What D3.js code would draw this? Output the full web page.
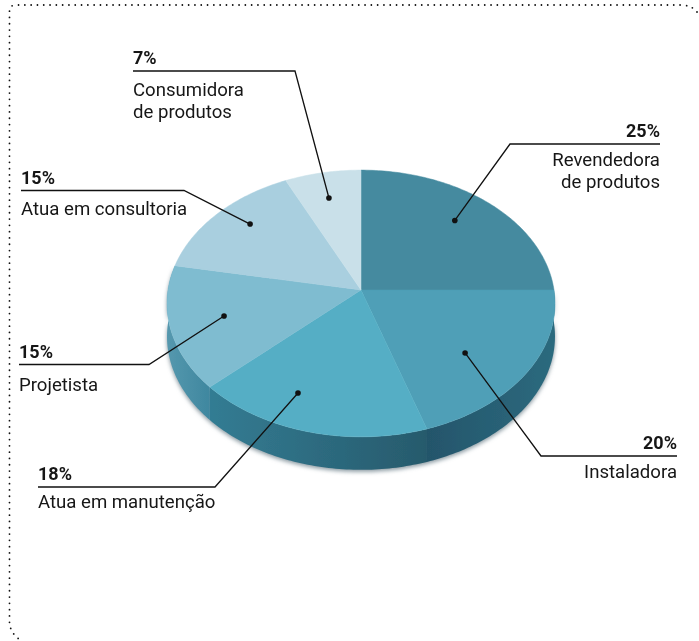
<!DOCTYPE html>
<html lang="pt">
<head>
<meta charset="UTF-8">
<title>Perfil</title>
<script src="https://cdn.jsdelivr.net/npm/d3@7"></script>
<style>
html,body{margin:0;background:#fff}
svg{display:block}
text{font-family:Roboto,sans-serif;fill:#161616}
</style>
</head>
<body>
<svg id="chart" width="699" height="641"></svg>
<script>
var labels=[["Revendedora","de produtos"],["Instaladora"],["Atua em manutenção"],["Projetista"],["Atua em consultoria"],["Consumidora","de produtos"]];
var values=[25,20,18,15,15,7];
var topColors=["#458a9f","#4f9fb7","#55aec5","#7fbcd0","#a9cfdf","#c9e0e9"];
var sideColors=[["#2d6478","#2d6478"],["#24556b","#2c6a7e"],["#337c93","#275a6c"],["#5598ae","#3f879f"],["#5f9db4","#5f9db4"],["#5f9db4","#5f9db4"]];

// callouts: x of text, line y, elbow x, anchor side, gap to the name, dot turn from slice middle (deg), dot radius
var callouts=[
    {x:660,y:144,end:510,to:"end",gap:22,turn:-2.3,r:0.757},
    {x:677,y:456,end:541,to:"end",gap:22,turn:5.5,r:0.687},
    {x:38,y:487,end:215,to:"start",gap:21,turn:8.3,r:0.784},
    {x:19,y:364.5,end:149,to:"start",gap:26.5,turn:0.7,r:0.722},
    {x:21,y:190.5,end:184,to:"start",gap:24.5,turn:3.2,r:0.802},
    {x:133,y:71,end:295,to:"start",gap:25,turn:-0.8,r:0.771}
];

var cx=361,cy=290,R=193,H=132,k=0.101,depth=33;

// the disc is drawn in perspective, near edge bigger than far edge
function project(a,r){
    var u=r*Math.sin(a),v=r*Math.cos(a),d=1+k*v;
    return [cx+R*u/d,cy-H*v/d];
}

var svg=d3.select("#chart");
var defs=svg.append("defs");
var soft=defs.append("filter").attr("id","soft").attr("x","-5%").attr("y","-5%").attr("width","110%").attr("height","110%");
soft.append("feGaussianBlur").attr("stdDeviation",0.5);
var shadow=defs.append("filter").attr("id","shadow").attr("x","-5%").attr("y","-5%").attr("width","110%").attr("height","115%");
shadow.append("feGaussianBlur").attr("stdDeviation",2);

// dotted frame, open at the bottom and right
svg.append("path")
    .attr("d","M697,12 Q692,5 680,5 L16,5 Q9.5,5 9.5,11 L9.5,622 Q10,634 22,641")
    .attr("fill","none").attr("stroke","#111").attr("stroke-width",1.8)
    .attr("stroke-linecap","round").attr("stroke-dasharray","0 6.3");

var slices=d3.pie().sort(null)(values);
var line=d3.line();

function arcPoints(s){
    var n=Math.ceil((s.endAngle-s.startAngle)*60);
    return d3.range(n+1).map(function(i){
        return project(s.startAngle+(s.endAngle-s.startAngle)*i/n,1);
    });
}

// walls
var wallData=[];
slices.forEach(function(s,i){
    var pts=arcPoints(s);
    var x=d3.extent(pts,function(p){return p[0];});
    var grad=defs.append("linearGradient").attr("id","side"+i).attr("gradientUnits","userSpaceOnUse")
        .attr("x1",x[0]).attr("x2",x[1]).attr("y1",0).attr("y2",0);
    grad.append("stop").attr("offset",0).attr("stop-color",sideColors[i][0]);
    grad.append("stop").attr("offset",1).attr("stop-color",sideColors[i][1]);
    var low=pts.map(function(p){return [p[0],p[1]+depth];}).reverse();
    wallData.push({i:i,pts:pts.concat(low)});
});
var wallsToDraw=wallData.filter(function(d){return d.i>=1&&d.i<=3;});
svg.append("g").attr("filter","url(#shadow)").selectAll("path").data(wallsToDraw).enter().append("path")
    .attr("d",function(d){return line(d.pts)+"Z";})
    .attr("fill","#8a9aa2").attr("transform","translate(0,2)");
svg.append("g").attr("filter","url(#soft)").selectAll("path").data(wallsToDraw).enter().append("path")
    .attr("d",function(d){return line(d.pts)+"Z";})
    .attr("fill",function(d){return "url(#side"+d.i+")";});

// top faces
svg.append("g").attr("filter","url(#soft)").selectAll("path").data(slices).enter().append("path")
    .attr("d",function(s){return line([[cx,cy]].concat(arcPoints(s)))+"Z";})
    .attr("fill",function(s,i){return topColors[i];})
    .attr("stroke",function(s,i){return topColors[i];}).attr("stroke-width",0.5);

// callouts
var g=svg.append("g").selectAll("g").data(slices).enter().append("g");
g.each(function(s,i){
    var c=callouts[i],el=d3.select(this);
    var mid=(s.startAngle+s.endAngle)/2+c.turn*Math.PI/180;
    var dot=project(mid,c.r);
    el.append("path")
        .attr("d",line([[c.x,c.y],[c.end,c.y],dot]))
        .attr("fill","none").attr("stroke","#111").attr("stroke-width",1.3);
    el.append("circle").attr("cx",dot[0]).attr("cy",dot[1]).attr("r",2.8).attr("fill","#111");
    el.append("text").attr("x",c.x).attr("y",c.y-7).attr("text-anchor",c.to)
        .attr("font-size",18).attr("font-weight",700).text(values[i]+"%");
    labels[i].forEach(function(t,j){
        el.append("text").attr("x",c.x).attr("y",c.y+c.gap+j*22).attr("text-anchor",c.to)
            .attr("font-size",18.6).attr("font-weight",400).text(t);
    });
});
</script>
</body>
</html>
